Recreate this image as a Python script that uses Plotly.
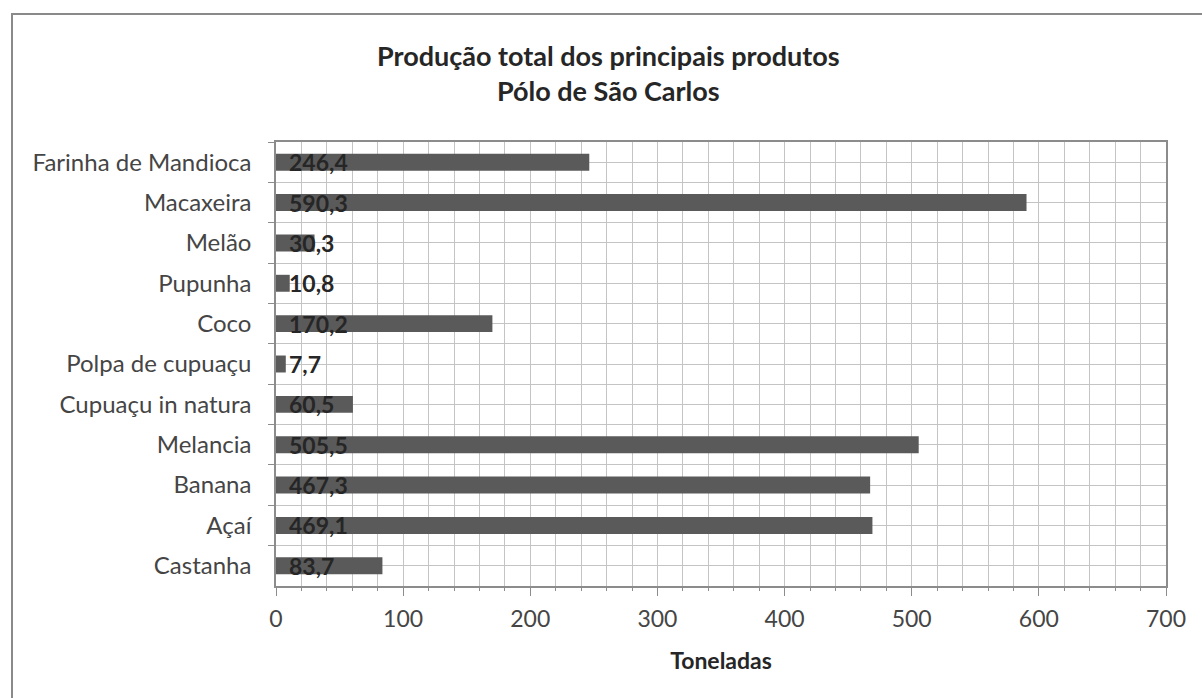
import plotly.graph_objects as go

# Produção (toneladas) por produto, de cima para baixo
produtos = [
    "Farinha de Mandioca", "Macaxeira", "Melão", "Pupunha", "Coco",
    "Polpa de cupuaçu", "Cupuaçu in natura", "Melancia", "Banana", "Açaí", "Castanha",
]
toneladas = [246.4, 590.3, 30.3, 10.8, 170.2, 7.7, 60.5, 505.5, 467.3, 469.1, 83.7]
x_ticks = [0, 100, 200, 300, 400, 500, 600, 700]

W, H = 1202, 698
L, R, T, B = 276, 36, 142, 112
FONT = "Lato"
TXT = "#454545"
GRID = "#c4c4c4"
AXIS = "#8c8c8c"

def fmt(v):
    return f"{v:.1f}".replace(".", ",")

fig = go.Figure()
fig.add_trace(go.Bar(
    y=produtos, x=toneladas, orientation="h",
    marker=dict(color="#5a5a5a", line=dict(width=0)),
    width=0.42, hoverinfo="skip", showlegend=False,
))
# helper trace on the overlay axis that carries the mid-band grid lines
fig.add_trace(go.Scatter(
    x=[None], y=[None], yaxis="y2", mode="markers",
    showlegend=False, hoverinfo="skip",
))

for p, v in zip(produtos, toneladas):
    fig.add_annotation(
        x=0, y=p, text=f"<b>{fmt(v)}</b>", showarrow=False,
        xanchor="left", yanchor="middle", xshift=11,
        font=dict(family=FONT, size=23, color="#262626"),
    )

pw, ph = W - L - R, H - T - B
def px_x(px):
    return (px - L) / pw
def px_y(py):
    return (H - B - py) / ph

fig.add_annotation(
    xref="paper", yref="paper", x=px_x(608), y=px_y(73),
    text="<b>Produção total dos principais produtos<br>Pólo de São Carlos</b>",
    showarrow=False, xanchor="center", yanchor="middle", align="center",
    font=dict(family=FONT, size=27, color="#262626"),
)

# outer chart frame
fig.add_shape(
    type="rect", xref="paper", yref="paper",
    x0=px_x(12), x1=px_x(1240), y0=px_y(740), y1=px_y(14),
    line=dict(color="#8a8a8a", width=2), fillcolor="rgba(0,0,0,0)", layer="below",
)

fig.update_layout(
    width=W, height=H,
    margin=dict(l=L, r=R, t=T, b=B),
    paper_bgcolor="white", plot_bgcolor="white",
    font=dict(family=FONT, color=TXT),
    xaxis=dict(
        range=[0, 700], tickvals=x_ticks, ticktext=[str(t) for t in x_ticks],
        showgrid=True, gridcolor=GRID, gridwidth=1,
        minor=dict(dtick=20, tick0=0, showgrid=True, gridcolor=GRID, gridwidth=1,
                   ticks="outside", ticklen=3, tickcolor=AXIS),
        ticks="outside", ticklen=8, tickcolor=AXIS,
        showline=True, linecolor=AXIS, linewidth=1.5, mirror=True,
        zeroline=False,
        tickfont=dict(family=FONT, size=23, color=TXT),
        ticklabelstandoff=4,
        title=dict(text="<b>Toneladas</b>", font=dict(family=FONT, size=23, color="#262626"),
                   standoff=22),
    ),
    yaxis=dict(
        type="category", autorange="reversed",
        tickson="boundaries", ticks="outside", ticklen=6, tickcolor=AXIS,
        showgrid=True, gridcolor=GRID, gridwidth=1,
        showline=True, linecolor=AXIS, linewidth=1.5, mirror=True,
        tickfont=dict(family=FONT, size=24, color=TXT),
        ticklabelstandoff=18,
    ),
    yaxis2=dict(
        overlaying="y", range=[-0.5, len(produtos) - 0.5],
        tickmode="linear", tick0=0, dtick=1,
        showgrid=True, gridcolor=GRID, gridwidth=1,
        showticklabels=False, ticks="", zeroline=False, showline=False,
    ),
)

fig.write_html("out.html")
